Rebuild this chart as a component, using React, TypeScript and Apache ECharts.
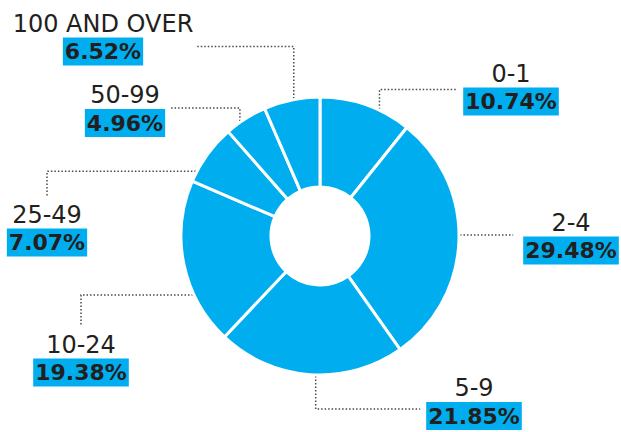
import React, { useEffect, useRef } from 'react';
import * as echarts from 'echarts';

const categories = ['0-1', '2-4', '5-9', '10-24', '25-49', '50-99', '100 AND OVER'];
const shares = [10.74, 29.48, 21.85, 19.38, 7.07, 4.96, 6.52];

// layout (positions only)
const CX = 320;
const CY = 236;
const R_IN = 49;
const R_OUT = 139;
const labelLayouts = [
  { cx: 511, top: 58.5, kind: 'vh', anchor: 0.65, ly: 31 },
  { cx: 571, top: 207.5, kind: 'h', anchor: 0.48, ly: 0 },
  { cx: 474, top: 373, kind: 'vh', anchor: 0.47, ly: 36 },
  { cx: 81, top: 329.5, kind: 'hv', anchor: 0.31, ly: 0 },
  { cx: 47, top: 199.5, kind: 'hv', anchor: 0.17, ly: 0 },
  { cx: 125, top: 80, kind: 'vh', anchor: 0.36, ly: 28 },
  { cx: 103, top: 8.5, kind: 'vh', anchor: 0.54, ly: 38 },
];

const BLUE = '#00AEEF';
const INK = '#231F20';

export default function App() {
  const ref = useRef<HTMLDivElement>(null);
  useEffect(() => {
    if (!ref.current) return;
    const chart = echarts.init(ref.current, null, { renderer: 'svg' });
    const total = shares.reduce((a, b) => a + b, 0);
    const starts: number[] = [];
    let acc = 0;
    shares.forEach((v) => {
      starts.push(acc);
      acc += v / total;
    });
    const anchorPoint = (i: number) => {
      const frac = starts[i] + (shares[i] / total) * labelLayouts[i].anchor;
      const th = frac * Math.PI * 2;
      const r = R_OUT + 1;
      return [CX + r * Math.sin(th), CY - r * Math.cos(th)];
    };
    chart.setOption({
      animation: false,
      series: [
        {
          type: 'pie',
          center: [CX, CY],
          radius: [R_IN, R_OUT],
          startAngle: 90,
          clockwise: true,
          avoidLabelOverlap: false,
          emphasis: { disabled: true },
          itemStyle: { color: BLUE, borderColor: '#ffffff', borderWidth: 3 },
          data: categories.map((c, i) => ({ name: c, value: shares[i] })),
          label: {
            show: true,
            position: 'outside',
            formatter: (p: any) => `{n|${p.name}}\n{p|${Number(p.value).toFixed(2)}%}`,
            rich: {
              n: {
                fontFamily: 'DejaVu Sans',
                fontSize: 24,
                color: INK,
                lineHeight: 30,
                align: 'center',
              },
              p: {
                fontFamily: 'DejaVu Sans',
                fontSize: 22,
                fontWeight: 'bold',
                color: INK,
                backgroundColor: BLUE,
                lineHeight: 26,
                padding: [3, 2, 3, 2],
                align: 'center',
              },
            },
          },
          labelLine: {
            show: true,
            lineStyle: { color: '#4a4a4a', width: 1.5, type: [1.5, 2] },
          },
          labelLayout: (params: any) => {
            const i = params.dataIndex;
            const L = labelLayouts[i];
            const w = params.labelRect.width;
            const left = L.cx - w / 2;
            const right = L.cx + w / 2;
            const a = anchorPoint(i);
            let pts: number[][];
            if (L.kind === 'vh') {
              const ly = L.top + L.ly;
              const ex = L.cx > CX ? left - 6 : right + 4;
              pts = [a, [a[0], ly], [ex, ly]];
            } else if (L.kind === 'hv') {
              pts = [a, [L.cx, a[1]], [L.cx, L.top - 3]];
            } else {
              pts = [a, [(a[0] + left - 10) / 2, a[1]], [left - 10, a[1]]];
            }
            return {
              x: L.cx,
              y: L.top,
              align: 'center',
              verticalAlign: 'top',
              labelLinePoints: pts,
            };
          },
        },
      ],
    });
    return () => chart.dispose();
  }, []);
  return (
    <div
      ref={ref}
      style={{ position: 'fixed', left: 0, top: 0, width: 621, height: 432, background: '#fff' }}
    />
  );
}
